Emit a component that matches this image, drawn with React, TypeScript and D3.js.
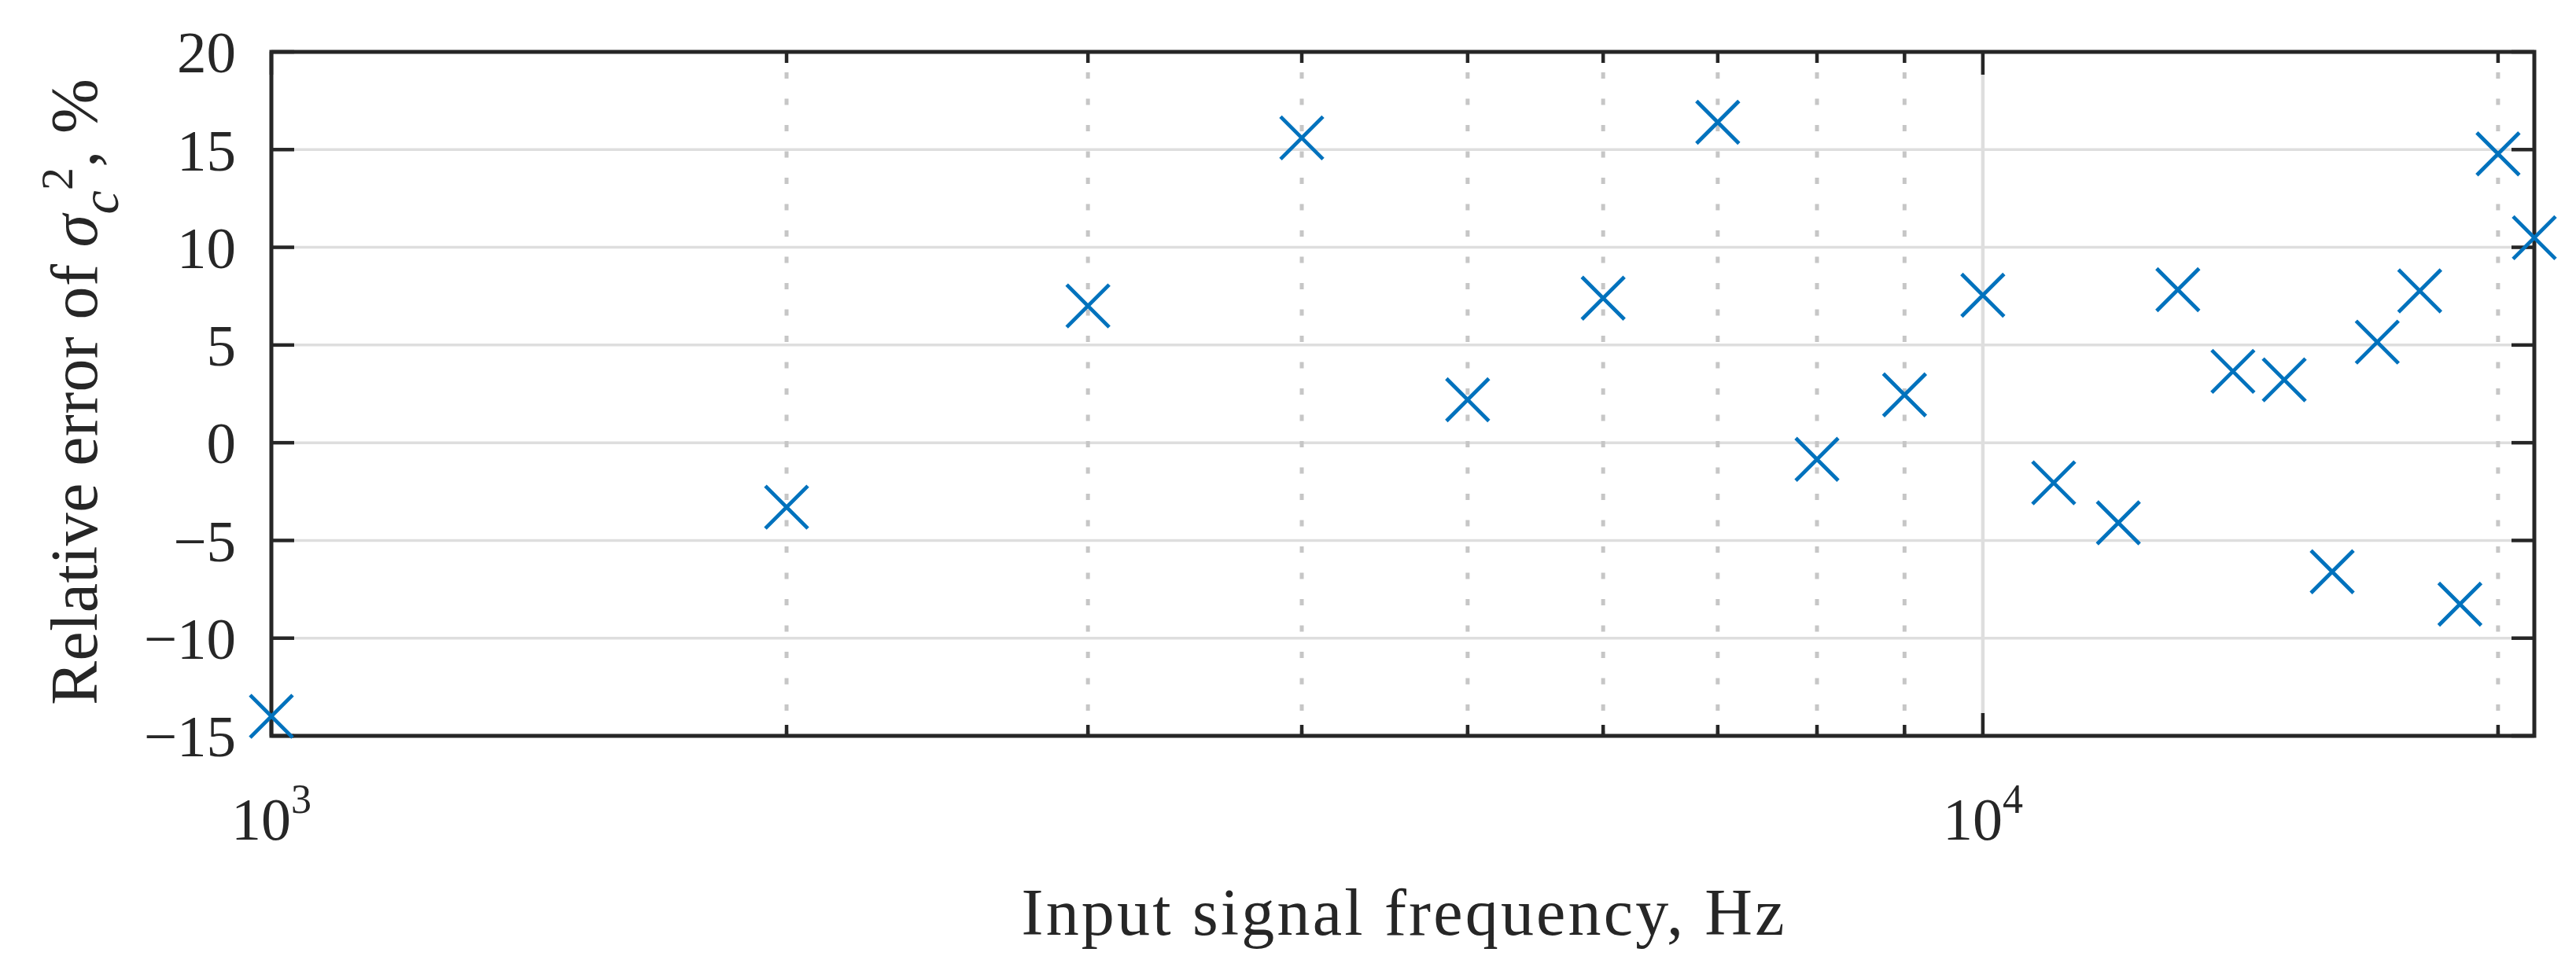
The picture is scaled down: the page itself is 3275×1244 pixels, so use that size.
import React from "react";
import * as d3 from "d3";

const FREQUENCIES = [1000, 2000, 3000, 4000, 5000, 6000, 7000, 8000, 9000, 10000, 11000, 12000, 13000, 14000, 15000, 16000, 17000, 18000, 19000, 20000, 21000];
const REL_ERROR = [-14.0, -3.3, 7.0, 15.6, 2.2, 7.4, 16.4, -0.85, 2.45, 7.55, -2.05, -4.1, 7.83, 3.65, 3.22, -6.6, 5.15, 7.77, -8.26, 14.78, 10.49];
const Y_TICKS = [-15, -10, -5, 0, 5, 10, 15, 20];
const X_MAJOR = [1000, 10000];
const X_MAJOR_EXP = ["3", "4"];
const X_MINOR = [2000, 3000, 4000, 5000, 6000, 7000, 8000, 9000, 20000];

const W = 3275;
const H = 1244;
const L = 345, R = 3222, T = 66, B = 936;
const AX = "#262626";
const FONT = "'Liberation Serif', 'DejaVu Serif', serif";

export default function App() {
  const x = d3.scaleLog().domain([1000, 21000]).range([L, R]);
  const y = d3.scaleLinear().domain([-15, 20]).range([B, T]);
  const ms = 27;
  return (
    <svg width={W} height={H} viewBox={`0 0 ${W} ${H}`} style={{ position: "absolute", left: 0, top: 0, background: "#fff" }}>
      <rect x={0} y={0} width={W} height={H} fill="#fff" />
      {/* horizontal grid */}
      {Y_TICKS.map((t) => (
        <line key={"hg" + t} x1={L} x2={R} y1={y(t)} y2={y(t)} stroke="#dedede" strokeWidth={3.5} />
      ))}
      {/* minor vertical grid (dotted) */}
      {X_MINOR.map((t) => (
        <line key={"vg" + t} x1={x(t)} x2={x(t)} y1={92} y2={B} stroke="#c6c6c6" strokeWidth={5} strokeDasharray="8 25.5" />
      ))}
      {/* major vertical grid */}
      {X_MAJOR.slice(1).map((t) => (
        <line key={"vM" + t} x1={x(t)} x2={x(t)} y1={T} y2={B} stroke="#dedede" strokeWidth={4.5} />
      ))}
      {/* y ticks left & right */}
      {Y_TICKS.map((t) => (
        <g key={"yt" + t}>
          <line x1={L} x2={L + 29} y1={y(t)} y2={y(t)} stroke={AX} strokeWidth={4.5} />
          <line x1={R - 29} x2={R} y1={y(t)} y2={y(t)} stroke={AX} strokeWidth={4.5} />
        </g>
      ))}
      {/* x ticks */}
      {X_MAJOR.map((t) => (
        <g key={"xM" + t}>
          <line x1={x(t)} x2={x(t)} y1={B} y2={B - 29} stroke={AX} strokeWidth={4.5} />
          <line x1={x(t)} x2={x(t)} y1={T} y2={T + 29} stroke={AX} strokeWidth={4.5} />
        </g>
      ))}
      {X_MINOR.map((t) => (
        <g key={"xm" + t}>
          <line x1={x(t)} x2={x(t)} y1={B} y2={B - 14} stroke={AX} strokeWidth={4.5} />
          <line x1={x(t)} x2={x(t)} y1={T} y2={T + 14} stroke={AX} strokeWidth={4.5} />
        </g>
      ))}
      {/* axes box */}
      <rect x={L} y={T} width={R - L} height={B - T} fill="none" stroke={AX} strokeWidth={5} />
      {/* y tick labels */}
      {Y_TICKS.map((t) => (
        <text key={"yl" + t} x={300} y={y(t)} dy="0.35em" textAnchor="end" fontFamily={FONT} fontSize={75} fill={AX}>
          {t < 0 ? "\u2212" + Math.abs(t) : String(t)}
        </text>
      ))}
      {/* x tick labels */}
      {X_MAJOR.map((t, i) => (
        <text key={"xl" + t} x={x(t)} y={1068} textAnchor="middle" fontFamily={FONT} fontSize={76} fill={AX}>
          10
          <tspan dy={-34} fontSize={52}>{X_MAJOR_EXP[i]}</tspan>
        </text>
      ))}
      {/* markers */}
      {FREQUENCIES.map((f, i) => {
        const cx = x(f), cy = y(REL_ERROR[i]);
        return (
          <path key={"m" + f} d={`M${cx - ms},${cy - ms}L${cx + ms},${cy + ms}M${cx - ms},${cy + ms}L${cx + ms},${cy - ms}`} stroke="#0072BD" strokeWidth={4.8} fill="none" />
        );
      })}
      {/* x label */}
      <text x={(L + R) / 2} y={1189} textAnchor="middle" fontFamily={FONT} fontSize={84} fill={AX} textLength={970} lengthAdjust="spacing">
        Input signal frequency, Hz
      </text>
      {/* y label */}
      <g transform={`translate(123, 498.5) rotate(-90)`}>
        <text x={0} y={0} textAnchor="middle" fontFamily={FONT} fontSize={84} fill={AX} textLength={797} lengthAdjust="spacing">
          Relative error of <tspan fontStyle="italic">σ</tspan>
          <tspan fontStyle="italic" fontSize={68} dy={27}>c</tspan>
          <tspan fontSize={58} dy={-58}>2</tspan>
          <tspan dy={31}>, %</tspan>
        </text>
      </g>
    </svg>
  );
}
